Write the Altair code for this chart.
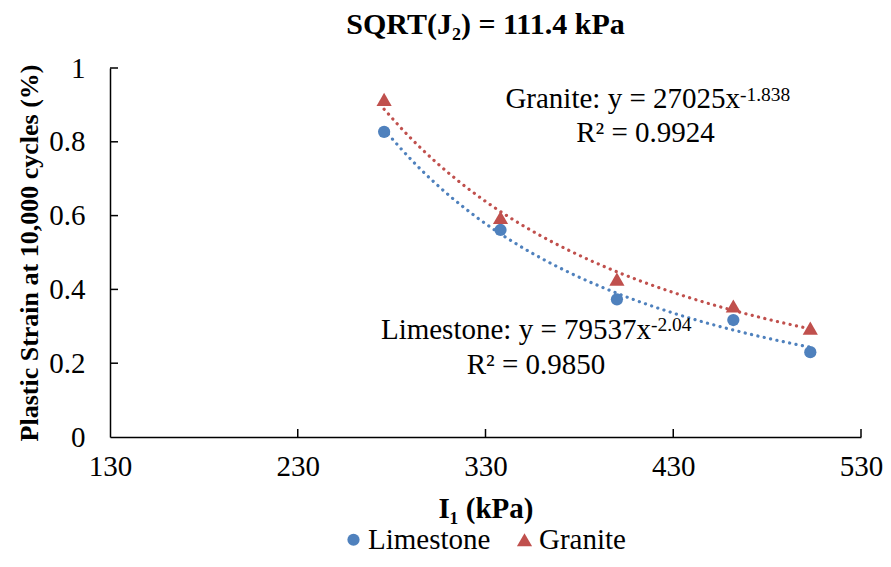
import altair as alt
import pandas as pd

# ---- data ----
i1_kpa = [276, 338, 400, 462, 503]
limestone = [0.827, 0.561, 0.373, 0.317, 0.230]
granite = [0.915, 0.595, 0.428, 0.355, 0.295]
series_names = ["Limestone", "Granite"]
series_colors = ["#4F81BD", "#C0504D"]
series_shapes = ["circle", "triangle-up"]
x_ticks = [130, 230, 330, 430, 530]
y_ticks = [0, 0.2, 0.4, 0.6, 0.8, 1.0]

title_text = "SQRT(J\u2082) = 111.4 kPa"
x_title = "I\u2081 (kPa)"
y_title = "Plastic Strain at 10,000 cycles (%)"
granite_eq = "Granite: y = 27025x"
granite_exp = "-1.838"
granite_r2 = "R\u00b2 = 0.9924"
lime_eq = "Limestone: y = 79537x"
lime_exp = "-2.04"
lime_r2 = "R\u00b2 = 0.9850"

FONT = "Liberation Serif"
W, H = 751, 369
FS = 29

df = pd.DataFrame({
    "I1": i1_kpa + i1_kpa,
    "strain": limestone + granite,
    "Material": [series_names[0]] * len(i1_kpa) + [series_names[1]] * len(i1_kpa),
})

xscale = alt.Scale(domain=[x_ticks[0], x_ticks[-1]], nice=False, zero=False)
yscale = alt.Scale(domain=[y_ticks[0], y_ticks[-1]], nice=False, zero=True)

xenc = alt.X(
    "I1:Q", scale=xscale,
    axis=alt.Axis(values=x_ticks, title=x_title, grid=False, ticks=False, tickSize=0,
                  labelFlush=False, labelOverlap=False,
                  labelPadding=15, labelFontSize=FS, labelFont=FONT, labelColor="black",
                  titleFont=FONT, titleFontSize=29, titleFontWeight="bold", titleColor="black",
                  titleBaseline="alphabetic", titleY=80,
                  domainColor="black", domainWidth=1.5),
)
yenc = alt.Y(
    "strain:Q", scale=yscale,
    axis=alt.Axis(values=y_ticks, title=y_title, format="~g", grid=False, ticks=False, tickSize=0,
                  labelFlush=False, labelOverlap=False,
                  labelPadding=25, labelFontSize=FS, labelFont=FONT, labelColor="black",
                  titleFont=FONT, titleFontSize=26, titleFontWeight="bold", titleColor="black",
                  titleAngle=-90, titleBaseline="alphabetic", titleAlign="center",
                  titleX=-73, titleY=H / 2,
                  domainColor="black", domainWidth=1.5),
)

legend = alt.Legend(title=None, orient="none", legendX=229, legendY=457,
                    direction="horizontal", labelFont=FONT, labelFontSize=FS,
                    labelColor="black", symbolSize=195, symbolStrokeWidth=0,
                    labelOffset=0, columnPadding=19, padding=0)

base = alt.Chart(df)

points = base.mark_point(filled=True, opacity=1, strokeWidth=0).encode(
    x=xenc, y=yenc,
    color=alt.Color("Material:N", scale=alt.Scale(domain=series_names, range=series_colors),
                    legend=legend),
    shape=alt.Shape("Material:N", scale=alt.Scale(domain=series_names, range=series_shapes),
                    legend=legend),
    size=alt.Size("Material:N", scale=alt.Scale(domain=series_names, range=[150, 230]), legend=None),
)

def trend(name, color):
    return base.transform_filter(alt.datum.Material == name).transform_regression(
        "I1", "strain", method="pow"
    ).mark_line(strokeDash=[0.1, 6.4], strokeCap="round", strokeWidth=3.2, color=color).encode(
        x=alt.X("I1:Q", scale=xscale), y=alt.Y("strain:Q", scale=yscale)
    )

trend_lime = trend(series_names[0], series_colors[0])
trend_gran = trend(series_names[1], series_colors[1])

# inward tick marks, placed through the scales
xt = alt.Chart(pd.DataFrame({"I1": x_ticks[1:]})).mark_rule(color="black", strokeWidth=1.5).encode(
    x=alt.X("I1:Q", scale=xscale), y=alt.value(H - 8), y2=alt.value(H)
)
yt = alt.Chart(pd.DataFrame({"strain": y_ticks[1:]})).mark_rule(color="black", strokeWidth=1.5).encode(
    y=alt.Y("strain:Q", scale=yscale), x=alt.value(0), x2=alt.value(8)
)

def label(text, x, y, size=FS, align="left", weight="normal"):
    return alt.Chart(pd.DataFrame({"t": [text]})).mark_text(
        font=FONT, fontSize=size, color="black", align=align, baseline="alphabetic",
        fontWeight=weight
    ).encode(x=alt.value(x), y=alt.value(y), text="t:N")

annots = [
    label(title_text, W / 2, -34, size=30, align="center", weight="bold"),
    label(granite_eq, 630, 40, align="right"),
    label(granite_exp, 630, 32.5, size=19.5, align="left"),
    label(granite_r2, 535.5, 74, align="center"),
    label(lime_eq, 541, 271, align="right"),
    label(lime_exp, 541, 262.5, size=19.5, align="left"),
    label(lime_r2, 426, 305.5, align="center"),
]

chart = alt.layer(points, trend_lime, trend_gran, xt, yt, *annots).properties(
    width=W, height=H,
    autosize=alt.AutoSizeParams(type="none"),
    padding={"left": 102, "top": 60, "right": 22, "bottom": 117},
).configure_view(stroke=None).configure_legend(
    labelFont=FONT, labelFontSize=FS, labelColor="black", symbolSize=195,
    symbolStrokeWidth=0, labelOffset=0, columnPadding=19, padding=0,
)

chart.save("out.html", embed_options={"renderer": "svg", "actions": False})
